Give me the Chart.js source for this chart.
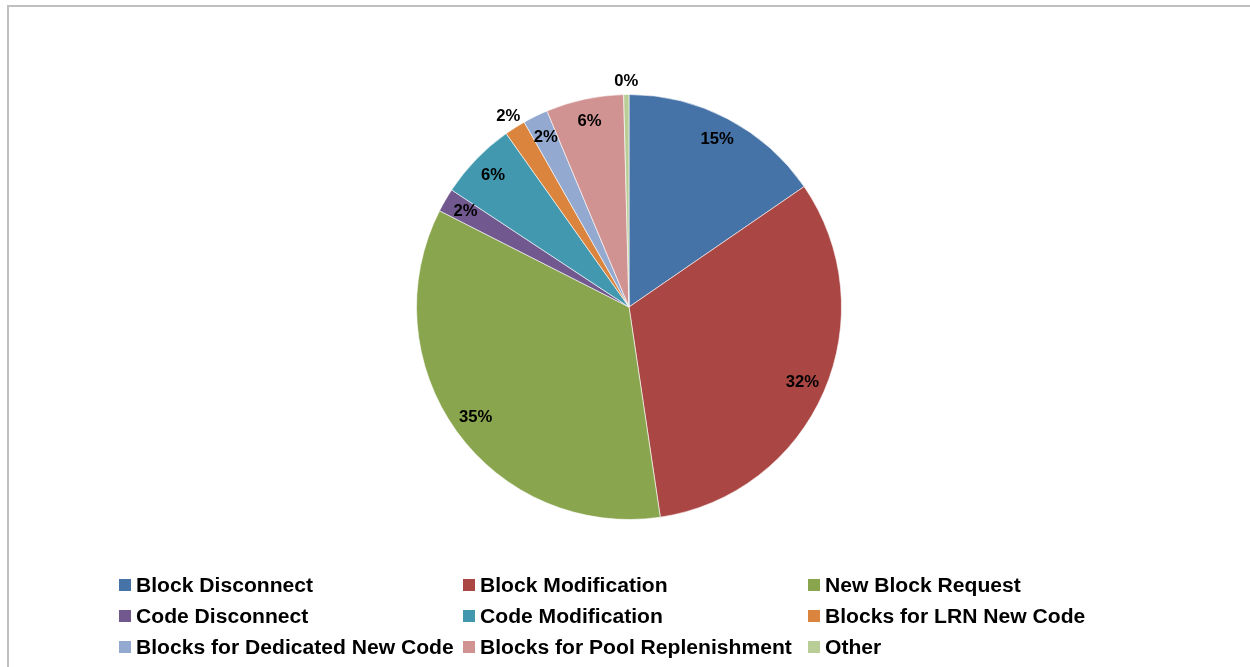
<!DOCTYPE html>
<html>
<head>
<meta charset="utf-8">
<script src="https://cdn.jsdelivr.net/npm/chart.js@4/dist/chart.umd.min.js"></script>
<style>
  body { margin: 0; background: #fff; }
  #wrap { position: absolute; left: 0; top: 0; width: 1250px; height: 667px; }
</style>
</head>
<body>
<div id="wrap"><canvas id="myChart" width="1250" height="667"></canvas></div>
<script>
const categories = [
    "Block Disconnect", "Block Modification", "New Block Request",
    "Code Disconnect", "Code Modification", "Blocks for LRN New Code",
    "Blocks for Dedicated New Code", "Blocks for Pool Replenishment", "Other"
];
const shares = [15.4, 32.2, 34.8, 1.8, 5.9, 1.6, 1.9, 5.9, 0.4];
const colors = [
    "#4572A7", "#AA4643", "#89A54E", "#71588F", "#4198AF",
    "#DB843D", "#93A9CF", "#D19392", "#B9CD96"
];
// labels drawn outside the pie
const outside = [5, 8];

// text in the original is a bit wider than Arial, stretch it
function wideText(c, txt, x, y, sx) {
    c.save();
    c.translate(x, y);
    c.scale(sx, 1);
    c.fillText(txt, 0, 0);
    c.restore();
}

const frame = {
    id: "frame",
    beforeDraw(chart) {
        const c = chart.ctx;
        c.save();
        c.strokeStyle = "#bfbfbf";
        c.lineWidth = 2;
        c.beginPath();
        c.moveTo(8, 667);
        c.lineTo(8, 6);
        c.lineTo(1250, 6);
        c.stroke();
        c.restore();
    }
};

const sliceLabels = {
    id: "sliceLabels",
    afterDatasetsDraw(chart) {
        const c = chart.ctx;
        const meta = chart.getDatasetMeta(0);
        const vals = chart.data.datasets[0].data;
        const total = vals.reduce((a, b) => a + b, 0);
        c.save();
        c.font = "bold 16px 'Liberation Sans', Arial, sans-serif";
        c.fillStyle = "#000";
        c.textAlign = "center";
        c.textBaseline = "middle";
        meta.data.forEach((arc, i) => {
            const p = arc.getProps(["x", "y", "startAngle", "endAngle", "outerRadius"], true);
            const mid = (p.startAngle + p.endAngle) / 2;
            const r = outside.includes(i) ? p.outerRadius * 1.06 : p.outerRadius * 0.89;
            const txt = Math.round(vals[i] / total * 100) + "%";
            wideText(c, txt, p.x + Math.cos(mid) * r, p.y + Math.sin(mid) * r, 1.04);
        });
        c.restore();
    }
};

const gridLegend = {
    id: "gridLegend",
    afterDraw(chart) {
        const c = chart.ctx;
        const cols = [119, 463, 808];
        const rows = [585, 616, 647];
        c.save();
        c.font = "bold 20px 'Liberation Sans', Arial, sans-serif";
        c.textBaseline = "middle";
        chart.data.labels.forEach((lab, i) => {
            const x = cols[i % 3];
            const y = rows[Math.floor(i / 3)];
            c.fillStyle = chart.data.datasets[0].backgroundColor[i];
            c.fillRect(x, y - 6, 12, 12);
            c.fillStyle = "#000";
            wideText(c, lab, x + 17, y + 1, 1.055);
        });
        c.restore();
    }
};

const ctx = document.getElementById("myChart");

new Chart(ctx, {
    type: "pie",
    data: {
        labels: categories,
        datasets: [
            {
                data: shares,
                backgroundColor: colors,
                borderColor: "rgba(255,255,255,0.6)",
                borderWidth: 1
            }
        ]
    },
    options: {
        responsive: false,
        animation: false,
        layout: {
            padding: { left: 8, right: 0, top: 94, bottom: 147 }
        },
        plugins: {
            legend: { display: false },
            tooltip: { enabled: false }
        }
    },
    plugins: [frame, sliceLabels, gridLegend]
});
</script>
</body>
</html>
